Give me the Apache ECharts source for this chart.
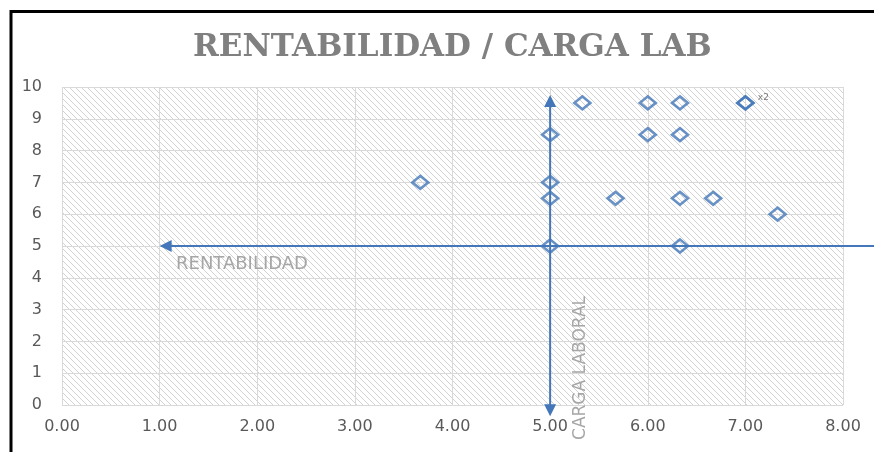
<!DOCTYPE html>
<html>
<head>
<meta charset="utf-8">
<script src="https://cdn.jsdelivr.net/npm/echarts@6/dist/echarts.min.js"></script>
<style>
html,body{margin:0;padding:0;background:#fff;}
#c{width:874px;height:452px;}
</style>
</head>
<body>
<div id="c"></div>
<script>
// ---- data ----
var titleText = 'RENTABILIDAD / CARGA LAB';
var xTicks = [0, 1, 2, 3, 4, 5, 6, 7, 8];
var yTicks = [0, 1, 2, 3, 4, 5, 6, 7, 8, 9, 10];
// [carga laboral (x), rentabilidad (y)]
var points = [
  [3.67, 7],
  [5, 8.5], [5, 7], [5, 6.5], [5, 5],
  [5.33, 9.5], [6, 9.5], [6.33, 9.5], [7, 9.5], [7, 9.5],
  [6, 8.5], [6.33, 8.5],
  [5.67, 6.5], [6.33, 6.5], [6.67, 6.5],
  [7.33, 6],
  [6.33, 5]
];
var hArrow = [[8.5, 5], [1, 5]];
var vArrow = [[5, 9.75], [5, -0.35]];
var hLabel = 'RENTABILIDAD';
var vLabel = 'CARGA LABORAL';
var dupLabel = 'x2';

// ---- hatch pattern ----
function makeHatch() {
  var s = 6;
  var cv = document.createElement('canvas');
  cv.width = s; cv.height = s;
  var ctx = cv.getContext('2d');
  ctx.fillStyle = '#ffffff';
  ctx.fillRect(0, 0, s, s);
  ctx.strokeStyle = '#d2d2d2';
  ctx.lineWidth = 1;
  [-s, 0, s].forEach(function (k) {
    ctx.beginPath();
    ctx.moveTo(k, 0);
    ctx.lineTo(k + s, s);
    ctx.stroke();
  });
  return cv;
}

var blue = '#4477b9';
var chart = echarts.init(document.getElementById('c'), null, {renderer: 'canvas'});

var lastDup = -1;
points.forEach(function (p, i) { if (p[0] === 7 && p[1] === 9.5) lastDup = i; });
var scatterData = points.map(function (p, i) {
  var item = {value: p};
  if (i === lastDup) {
    item.label = {
      show: true, formatter: dupLabel, position: 'right', distance: 3, offset: [0, -5],
      fontSize: 9, color: '#595959', fontFamily: 'DejaVu Sans'
    };
  }
  return item;
});

var option = {
  animation: false,
  backgroundColor: '#ffffff',
  title: {
    text: titleText,
    left: 188,
    top: 27,
    textStyle: {fontFamily: 'DejaVu Serif', fontWeight: 'bold', fontSize: 31, color: '#808080'}
  },
  grid: {
    left: 62, right: 31, top: 87, bottom: 47,
    show: true,
    backgroundColor: {image: makeHatch(), repeat: 'repeat'},
    borderWidth: 0
  },
  xAxis: {
    type: 'value', min: xTicks[0], max: xTicks[xTicks.length - 1], interval: 1,
    axisLine: {show: false}, axisTick: {show: false},
    splitLine: {show: true, lineStyle: {color: '#d9d9d9', width: 1}},
    axisLabel: {
      margin: 14, color: '#595959', fontSize: 16, fontFamily: 'DejaVu Sans',
      formatter: function (v) { return v.toFixed(2); }
    }
  },
  yAxis: {
    type: 'value', min: yTicks[0], max: yTicks[yTicks.length - 1], interval: 1,
    axisLine: {show: false}, axisTick: {show: false},
    splitLine: {show: true, lineStyle: {color: '#d9d9d9', width: 1}},
    axisLabel: {margin: 20, color: '#595959', fontSize: 16, fontFamily: 'DejaVu Sans'}
  },
  series: [
    {
      type: 'scatter', data: scatterData, z: 3,
      symbol: 'diamond', symbolSize: [16, 13],
      itemStyle: {color: 'rgba(255,255,255,0)', borderColor: blue, borderWidth: 2.6}
    }
  ]
};
chart.setOption(option);

// arrows through the chart's own scales
function px(p) { return chart.convertToPixel({gridIndex: 0}, p); }
function arrowHead(tip, dir, len, half) {
  var bx = tip[0] - dir[0] * len, by = tip[1] - dir[1] * len;
  var nx = -dir[1], ny = dir[0];
  return {
    type: 'polygon', silent: true, z: 2,
    shape: {points: [tip, [bx + nx * half, by + ny * half], [bx - nx * half, by - ny * half]]},
    style: {fill: blue}
  };
}
var h0 = px(hArrow[0]), h1 = px(hArrow[1]);
var v0 = px(vArrow[0]), v1 = px(vArrow[1]);
var graphics = [
  {type: 'line', silent: true, z: 1,
   shape: {x1: h0[0], y1: h0[1], x2: h1[0] + 10, y2: h1[1]},
   style: {stroke: blue, lineWidth: 2}},
  arrowHead(h1, [-1, 0], 12, 6),
  {type: 'line', silent: true, z: 1,
   shape: {x1: v0[0], y1: v0[1] + 10, x2: v1[0], y2: v1[1] - 10},
   style: {stroke: blue, lineWidth: 2}},
  arrowHead(v0, [0, -1], 12, 6),
  arrowHead(v1, [0, 1], 12, 6),
  {type: 'rect', shape: {x: 11, y: 11.5, width: 900, height: 500},
   style: {fill: 'none', stroke: '#000', lineWidth: 3}, silent: true, z: 100},
  {type: 'text', x: 176, y: 264, silent: true, z: 50,
   style: {text: hLabel, fontFamily: 'DejaVu Sans', fontSize: 18, fill: '#a6a6a6', align: 'left', verticalAlign: 'middle'}},
  {type: 'text', x: 581, y: 368, rotation: Math.PI / 2, silent: true, z: 50,
   style: {text: vLabel, fontFamily: 'DejaVu Sans', fontSize: 17, fill: '#a6a6a6', align: 'center', verticalAlign: 'middle'}}
];
chart.setOption({graphic: graphics});
</script>
</body>
</html>
